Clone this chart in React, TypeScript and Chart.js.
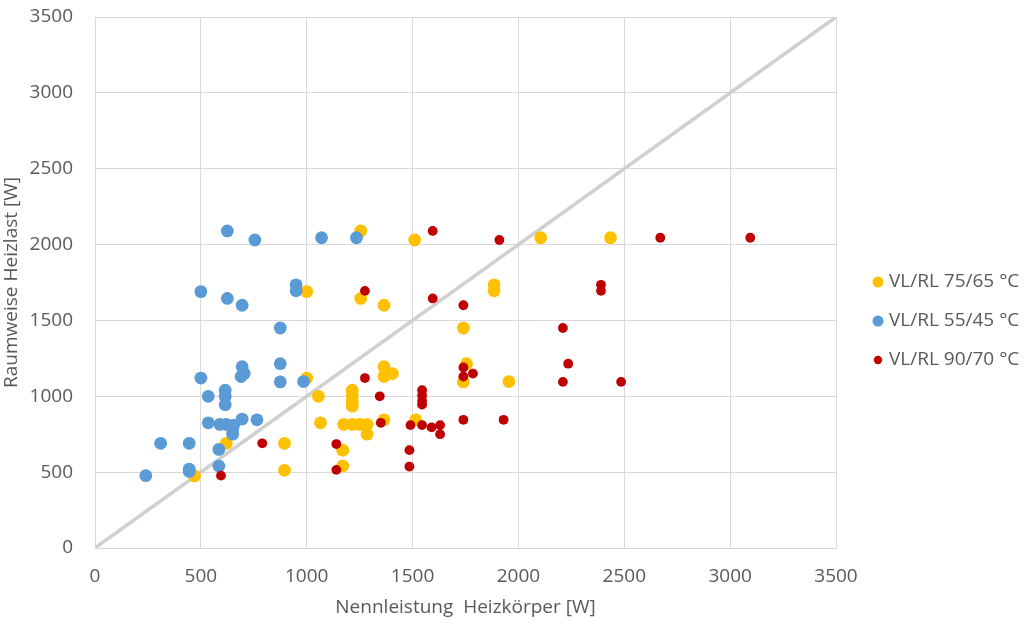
import React, { useEffect, useRef } from "react";
import { Chart, registerables } from "chart.js";

Chart.register(...registerables);

// ---- data ----
const orangeX = [1255, 1510, 2105, 2435, 1000, 1255, 1365, 1885, 1885, 1740, 1755, 1740, 1955, 1365, 1405, 1365, 1000, 1055, 1215, 1215, 1215, 1215, 1065, 1175, 1215, 1250, 1285, 1285, 1365, 1515, 620, 895, 895, 470, 1170, 1170];
const orangeY = [2090, 2030, 2045, 2045, 1690, 1645, 1600, 1735, 1695, 1450, 1215, 1095, 1097, 1195, 1150, 1130, 1120, 1000, 1040, 1000, 965, 935, 825, 815, 815, 815, 815, 750, 845, 845, 690, 690, 512, 475, 645, 540];

const blueX = [625, 755, 1070, 1235, 500, 625, 695, 950, 950, 875, 695, 705, 690, 875, 875, 985, 500, 535, 615, 615, 615, 535, 590, 620, 655, 650, 650, 695, 765, 310, 445, 585, 445, 445, 585, 240];
const blueY = [2090, 2030, 2045, 2045, 1690, 1645, 1600, 1735, 1695, 1450, 1195, 1150, 1130, 1215, 1095, 1097, 1120, 1000, 1040, 1000, 945, 825, 815, 815, 810, 780, 750, 850, 845, 690, 690, 650, 520, 505, 540, 477];

const redX = [1595, 1910, 2670, 3095, 1275, 1595, 1740, 2390, 2390, 2210, 1740, 1785, 1740, 1275, 2235, 2210, 2485, 1345, 1545, 1545, 1545, 1545, 1350, 1490, 1545, 1590, 1630, 1630, 1740, 1930, 790, 1140, 1485, 595, 1140, 1485];
const redY = [2090, 2030, 2045, 2045, 1695, 1645, 1600, 1735, 1695, 1450, 1190, 1150, 1130, 1120, 1215, 1095, 1095, 1000, 1040, 1005, 970, 945, 825, 810, 810, 795, 810, 750, 845, 845, 690, 685, 645, 477, 515, 537];

const diagonalX = [0, 3500];
const diagonalY = [0, 3500];

const seriesLabels = ["VL/RL 75/65 °C", "VL/RL 55/45 °C", "VL/RL 90/70 °C"];
const seriesColors = ["#FFC000", "#5B9BD5", "#C00000"];

const axisMin = 0;
const axisMax = 3500;
const axisStep = 500;
const xTitle = "Nennleistung  Heizkörper [W]";
const yTitle = "Raumweise Heizlast [W]";

const FONT = "'Open Sans', sans-serif";
const FONT_SIZE = 19;
const TEXT = "#595959";
const GRID = "#D9D9D9";

const zip = (xs: number[], ys: number[]) => xs.map((x, i) => ({ x, y: ys[i] }));

const legendPlugin = {
  id: "customLegend",
  afterDraw(chart: any) {
    const { ctx, chartArea } = chart;
    const markerX = chartArea.right + 42;
    const textX = chartArea.right + 53;
    const gap = 39;
    const centerY = 321;
    const radii = [5.5, 5.5, 4.2];
    ctx.save();
    ctx.font = `${FONT_SIZE}px ${FONT}`;
    ctx.textBaseline = "middle";
    ctx.textAlign = "left";
    seriesLabels.forEach((label, i) => {
      const y = centerY + (i - 1) * gap;
      ctx.beginPath();
      ctx.fillStyle = seriesColors[i];
      ctx.arc(markerX, y, radii[i], 0, Math.PI * 2);
      ctx.fill();
      ctx.fillStyle = TEXT;
      ctx.fillText(label, textX, y);
    });
    ctx.restore();
  },
};

export default function App() {
  const ref = useRef<HTMLCanvasElement | null>(null);
  useEffect(() => {
    if (!ref.current) return;
    const chart = new Chart(ref.current, {
      type: "scatter",
      data: {
        datasets: [
          {
            label: seriesLabels[0],
            data: zip(orangeX, orangeY),
            backgroundColor: seriesColors[0],
            borderWidth: 0,
            pointRadius: 6.4,
            order: 2,
          },
          {
            label: seriesLabels[1],
            data: zip(blueX, blueY),
            backgroundColor: seriesColors[1],
            borderWidth: 0,
            pointRadius: 6.4,
            order: 1,
          },
          {
            label: seriesLabels[2],
            data: zip(redX, redY),
            backgroundColor: seriesColors[2],
            borderWidth: 0,
            pointRadius: 4.9,
            order: 0,
          },
          {
            label: "diagonal",
            data: zip(diagonalX, diagonalY),
            showLine: true,
            borderColor: "#D0D0D0",
            borderWidth: 3.5,
            pointRadius: 0,
            order: 3,
          } as any,
        ],
      },
      options: {
        responsive: false,
        animation: false,
        layout: { padding: { top: 17, right: 188, left: 0, bottom: 0 } },
        plugins: {
          legend: { display: false },
          tooltip: { enabled: false },
        },
        scales: {
          x: {
            type: "linear",
            min: axisMin,
            max: axisMax,
            afterFit: (s: any) => {
              s.height = 75;
              s.paddingLeft = 0;
              s.paddingRight = 0;
            },
            ticks: {
              stepSize: axisStep,
              padding: 17,
              color: TEXT,
              font: { family: FONT, size: FONT_SIZE },
              callback: (v: any) => String(v),
            },
            grid: { color: GRID, lineWidth: 1, drawTicks: false },
            border: { color: GRID, width: 1 },
            title: {
              display: true,
              text: xTitle,
              color: TEXT,
              font: { family: FONT, size: FONT_SIZE },
              padding: { top: 0, bottom: 4 },
            },
          },
          y: {
            type: "linear",
            min: axisMin,
            max: axisMax,
            afterFit: (s: any) => {
              s.width = 95;
              s.paddingTop = 0;
              s.paddingBottom = 0;
            },
            ticks: {
              stepSize: axisStep,
              padding: 22,
              color: TEXT,
              font: { family: FONT, size: FONT_SIZE },
              callback: (v: any) => String(v),
            },
            grid: { color: GRID, lineWidth: 1, drawTicks: false },
            border: { color: GRID, width: 1 },
            title: {
              display: true,
              text: yTitle,
              color: TEXT,
              font: { family: FONT, size: FONT_SIZE },
              padding: { top: 0, bottom: 0 },
            },
          },
        },
      },
      plugins: [legendPlugin],
    });
    return () => chart.destroy();
  }, []);
  return (
    <div style={{ position: "absolute", left: 0, top: 0, width: 1024, height: 623, background: "#fff" }}>
      <canvas ref={ref} width={1024} height={623} style={{ display: "block" }} />
    </div>
  );
}
